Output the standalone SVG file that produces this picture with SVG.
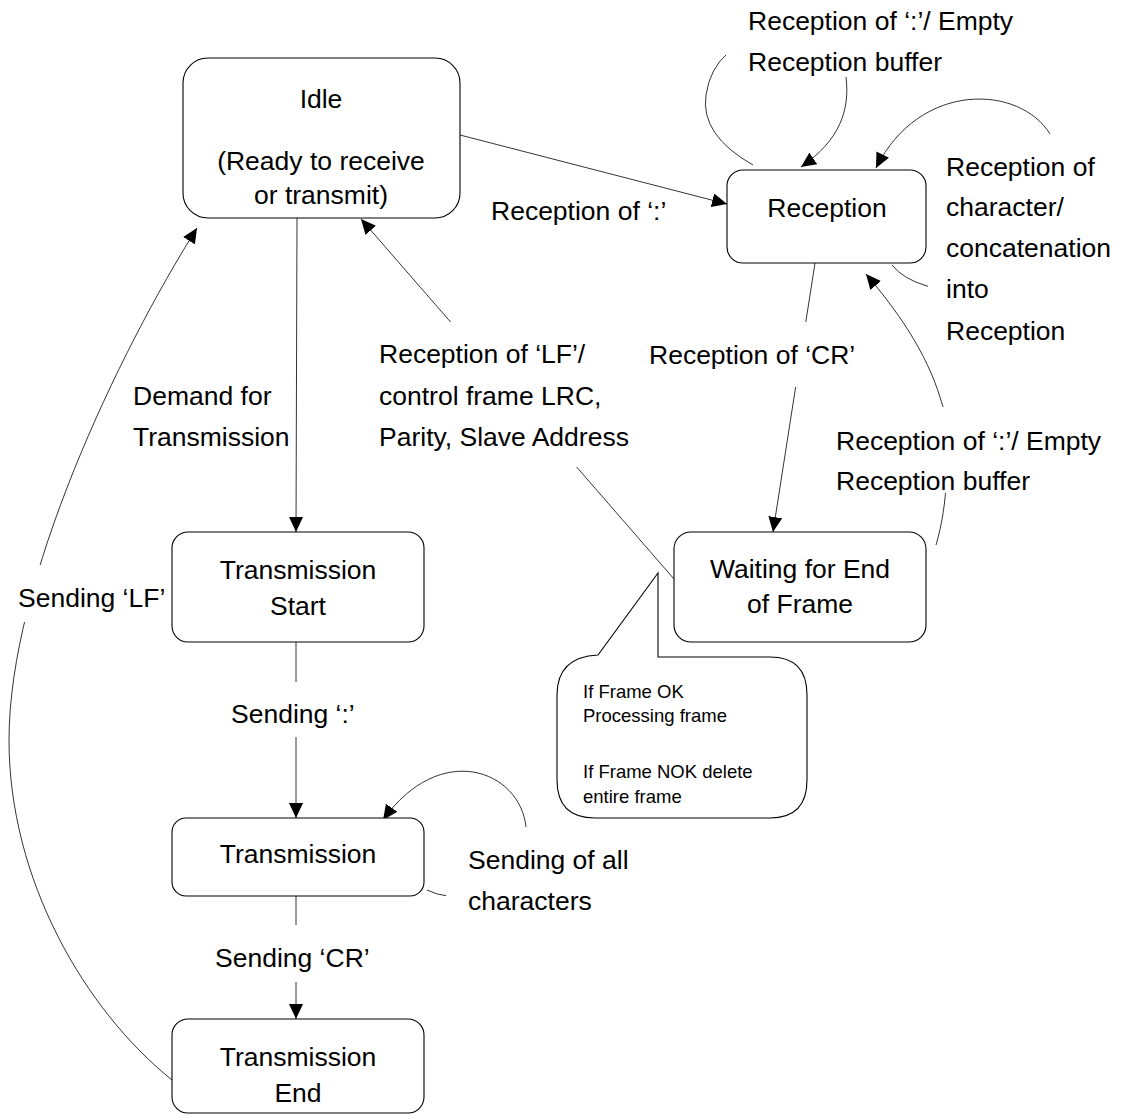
<svg xmlns="http://www.w3.org/2000/svg" width="1128" height="1116" viewBox="0 0 1128 1116">
  <defs>
    <style>
      .box { fill: #fff; stroke: #000; stroke-width: 1.1; }
      .edge { fill: none; stroke: #000; stroke-width: 0.8; }
      .bg { fill: #fff; stroke: none; }
      .t { font-family: "Liberation Sans", Arial, sans-serif; font-size: 26.5px; fill: #000; }
      .c { text-anchor: middle; }
      .s { font-size: 18.5px; }
    </style>
    <marker id="arrow" markerUnits="userSpaceOnUse" markerWidth="15" markerHeight="14" refX="15" refY="7" orient="auto">
      <path d="M0,0 L15,7 L0,14 Z" fill="#000"/>
    </marker>
  </defs>

  <rect width="1128" height="1116" fill="#fff"/>

  <!-- transitions -->
  <g id="connectors">
    <path id="e-idle-reception" class="edge" d="M460,135 L727,204" marker-end="url(#arrow)"/>
    <path id="e-reception-self-empty" class="edge" d="M753,165 Q700,135 706,95 Q710,68 728,53 C745,38 800,25 835,45 C845,55 846,65 846,77 C850,110 840,140 801,167" marker-end="url(#arrow)"/>
    <path id="e-reception-self-char" class="edge" d="M892,265 Q903,279 927,286 C990,300 1090,220 1050,134 C1020,85 920,80 876,168" marker-end="url(#arrow)"/>
    <path id="e-reception-waiting" class="edge" d="M815,263 L773,532" marker-end="url(#arrow)"/>
    <path id="e-waiting-reception" class="edge" d="M936,545 C948,505 950,450 943,407 C930,360 905,320 866,274" marker-end="url(#arrow)"/>
    <path id="e-waiting-idle" class="edge" d="M674,579 L361,219" marker-end="url(#arrow)"/>
    <path id="e-idle-tstart" class="edge" d="M297,218 L296,532" marker-end="url(#arrow)"/>
    <path id="e-tstart-trans" class="edge" d="M296,642 L296,818" marker-end="url(#arrow)"/>
    <path id="e-trans-self" class="edge" d="M427,890 Q437,895 448,896 C480,900 530,870 526,827 C520,770 440,740 383,820" marker-end="url(#arrow)"/>
    <path id="e-trans-tend" class="edge" d="M296,896 L296,1019" marker-end="url(#arrow)"/>
    <path id="e-tend-idle" class="edge" d="M172,1080 C85,1010 9,880 9,740 C9,580 120,350 197,228" marker-end="url(#arrow)"/>
  </g>

  <!-- transition labels -->
  <g id="labels">
    <g id="l-reception-self-empty">
      <rect class="bg" x="726" y="0" width="302" height="77"/>
      <text class="t" x="748" y="30">Reception of ‘:’/ Empty</text>
      <text class="t" x="748" y="71">Reception buffer</text>
    </g>
    <g id="l-idle-reception">
      <text class="t" x="491" y="220">Reception of ‘:’</text>
    </g>
    <g id="l-reception-self-char">
      <rect class="bg" x="928" y="134" width="196" height="218"/>
      <text class="t" x="946" y="176">Reception of</text>
      <text class="t" x="946" y="216">character/</text>
      <text class="t" x="946" y="257">concatenation</text>
      <text class="t" x="946" y="298">into</text>
      <text class="t" x="946" y="340">Reception</text>
    </g>
    <g id="l-waiting-idle">
      <rect class="bg" x="375" y="322" width="285" height="145"/>
      <text class="t" x="379" y="363">Reception of ‘LF’/</text>
      <text class="t" x="379" y="405">control frame LRC,</text>
      <text class="t" x="379" y="446">Parity, Slave Address</text>
    </g>
    <g id="l-reception-waiting">
      <rect class="bg" x="645" y="322" width="207" height="65"/>
      <text class="t" x="649" y="364">Reception of ‘CR’</text>
    </g>
    <g id="l-idle-tstart">
      <text class="t" x="133" y="405">Demand for</text>
      <text class="t" x="133" y="446">Transmission</text>
    </g>
    <g id="l-waiting-reception">
      <rect class="bg" x="832" y="407" width="282" height="86"/>
      <text class="t" x="836" y="450">Reception of ‘:’/ Empty</text>
      <text class="t" x="836" y="490">Reception buffer</text>
    </g>
    <g id="l-tend-idle">
      <rect class="bg" x="12" y="565" width="150" height="57"/>
      <text class="t" x="18" y="607">Sending ‘LF’</text>
    </g>
    <g id="l-tstart-trans">
      <rect class="bg" x="225" y="682" width="135" height="55"/>
      <text class="t" x="231" y="723">Sending ‘:’</text>
    </g>
    <g id="l-trans-self">
      <rect class="bg" x="446" y="827" width="186" height="93"/>
      <text class="t" x="468" y="869">Sending of all</text>
      <text class="t" x="468" y="910">characters</text>
    </g>
    <g id="l-trans-tend">
      <rect class="bg" x="210" y="925" width="157" height="57"/>
      <text class="t" x="215" y="967">Sending ‘CR’</text>
    </g>
  </g>

  <!-- states -->
  <g id="idle">
    <rect class="box" x="183" y="58" width="277" height="160" rx="25"/>
    <text class="t c" x="321" y="108">Idle</text>
    <text class="t c" x="321" y="170">(Ready to receive</text>
    <text class="t c" x="321" y="204">or transmit)</text>
  </g>
  <g id="reception">
    <rect class="box" x="727" y="170" width="199" height="93" rx="16"/>
    <text class="t c" x="827" y="217">Reception</text>
  </g>
  <g id="transmission-start">
    <rect class="box" x="172" y="532" width="252" height="110" rx="16"/>
    <text class="t c" x="298" y="579">Transmission</text>
    <text class="t c" x="298" y="615">Start</text>
  </g>
  <g id="waiting">
    <rect class="box" x="674" y="532" width="252" height="110" rx="17"/>
    <text class="t c" x="800" y="578">Waiting for End</text>
    <text class="t c" x="800" y="613">of Frame</text>
  </g>
  <g id="transmission">
    <rect class="box" x="172" y="818" width="252" height="78" rx="14"/>
    <text class="t c" x="298" y="863">Transmission</text>
  </g>
  <g id="transmission-end">
    <rect class="box" x="172" y="1019" width="252" height="94" rx="16"/>
    <text class="t c" x="298" y="1066">Transmission</text>
    <text class="t c" x="298" y="1102">End</text>
  </g>

  <!-- callout on frame handling -->
  <g id="frame-note">
    <path class="box" d="M658,573 L598,655 Q557,657 557,695 L557,780 Q557,818 595,818 L770,818 Q807,818 807,780 L807,695 Q807,657 770,657 L658,657 Z"/>
    <text class="t s" x="583" y="698">If Frame OK</text>
    <text class="t s" x="583" y="722">Processing frame</text>
    <text class="t s" x="583" y="778">If Frame NOK delete</text>
    <text class="t s" x="583" y="803">entire frame</text>
  </g>
</svg>
